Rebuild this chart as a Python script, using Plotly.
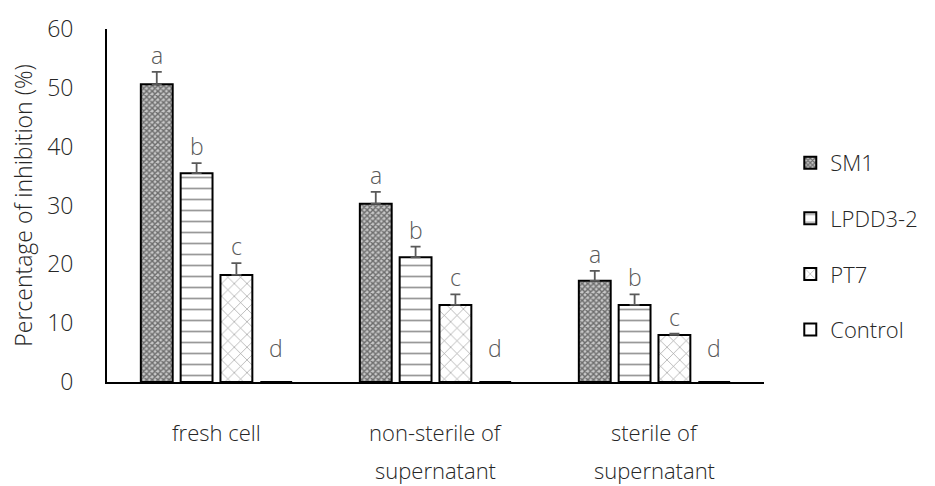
import plotly.graph_objects as go

# Inhibition data (mean % and upper error) per treatment and strain
categories = ["fresh cell", "non-sterile of supernatant", "sterile of supernatant"]
category_lines = [["fresh cell"], ["non-sterile of", "supernatant"], ["sterile of", "supernatant"]]
series_names = ["SM1", "LPDD3-2", "PT7", "Control"]

sm1 = [50.6, 30.3, 17.2]
lpdd3_2 = [35.5, 21.2, 13.1]
pt7 = [18.2, 13.1, 8.0]
control = [0.0, 0.0, 0.0]

sm1_err = [2.1, 2.0, 1.7]
lpdd3_2_err = [1.7, 1.8, 1.8]
pt7_err = [2.0, 1.8, 0.2]

letters = {
    "SM1": ["a", "a", "a"],
    "LPDD3-2": ["b", "b", "b"],
    "PT7": ["c", "c", "c"],
    "Control": ["d", "d", "d"],
}

y_ticks = [0, 10, 20, 30, 40, 50, 60]

FONT = "Open Sans"
TXT = "#262626"
LETTER = "#595959"
W = 300

values = [sm1, lpdd3_2, pt7, control]
errors = [sm1_err, lpdd3_2_err, pt7_err, None]
patterns = [
    dict(shape="x", size=4, solidity=0.6, fgcolor="#111111", bgcolor="#c8c8c8"),
    dict(shape="-", size=11, solidity=0.16, fgcolor="#333333", bgcolor="white"),
    dict(shape="x", size=9, solidity=0.14, fgcolor="#333333", bgcolor="white"),
    dict(shape="", fgcolor="black", bgcolor="white"),
]

x_idx = list(range(len(categories)))

fig = go.Figure()
for i, name in enumerate(series_names):
    err = errors[i]
    fig.add_trace(go.Bar(
        name=name,
        x=x_idx,
        y=values[i],
        legendgroup=name,
        marker=dict(color="white", line=dict(color="black", width=2), pattern=patterns[i]),
        error_y=(dict(type="data", array=err, arrayminus=[0] * len(err), symmetric=False,
                      color=LETTER, thickness=1.8, width=5) if err else None),
    ))

# significance letters above each bar
n = len(series_names)
slot = (1 - 0.2727) / n
annotations = []
for i, name in enumerate(series_names):
    for j in x_idx:
        top = values[i][j] + (errors[i][j] if errors[i] else 0)
        xpos = j - (1 - 0.2727) / 2 + slot * (i + 0.5)
        annotations.append(dict(
            x=xpos, y=top, xref="x", yref="y", text=letters[name][j],
            showarrow=False, yanchor="bottom", yshift=(16 if top == 0 else -1),
            font=dict(family=FONT, size=23, color=LETTER, weight=W),
        ))

# category labels under the axis, one annotation per line
for j, lines in enumerate(category_lines):
    for k, line in enumerate(lines):
        annotations.append(dict(
            x=j, y=0, xref="x", yref="y", text=line, showarrow=False,
            yanchor="middle", yshift=-50 - 38 * k,
            font=dict(family=FONT, size=22, color=TXT, weight=W),
        ))

fig.update_layout(
    width=935, height=486,
    margin=dict(l=107, r=168, t=22, b=104),
    paper_bgcolor="white", plot_bgcolor="white",
    barmode="group", bargap=0.2727, bargroupgap=0.2,
    font=dict(family=FONT, color=TXT, weight=W),
    showlegend=True,
    legend=dict(
        x=1.04, y=0.68, xanchor="left", yanchor="top",
        font=dict(family=FONT, size=22, color=TXT, weight=W),
        traceorder="grouped", tracegroupgap=24,
        itemwidth=30,
    ),
    annotations=annotations,
    xaxis=dict(
        range=[-0.5, 2.5], tickvals=x_idx, showticklabels=False,
        showline=True, linecolor="black", linewidth=2, ticks="",
        showgrid=False, zeroline=False,
    ),
    yaxis=dict(
        range=[0, 60], tickvals=y_ticks, showline=True, linecolor="black", linewidth=2,
        ticks="", showgrid=False, zeroline=False, ticklabelstandoff=27,
        tickfont=dict(family=FONT, size=23, color=TXT, weight=W),
        title=dict(text="Percentage of inhibition (%)", standoff=8,
                   font=dict(family=FONT, size=23, color=TXT, weight=W)),
    ),
)

fig.write_html("out.html")
